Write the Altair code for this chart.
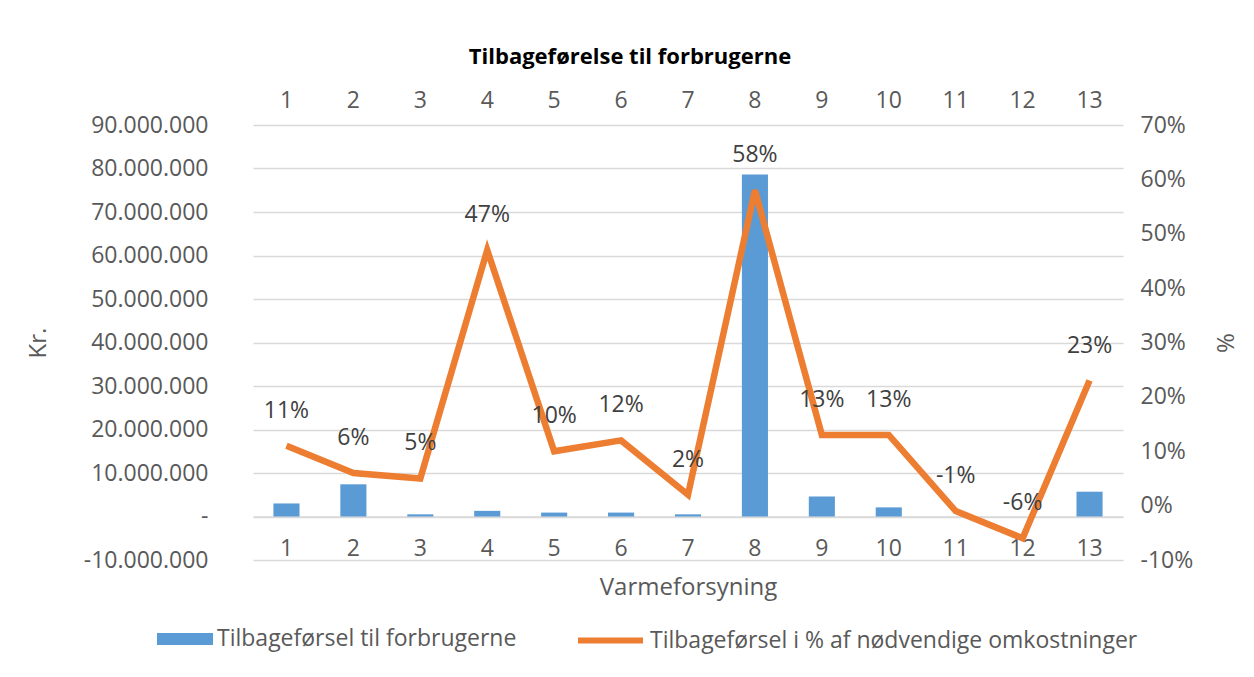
import altair as alt
import pandas as pd

categories = [str(i) for i in range(1, 14)]
amounts = [3.0e6, 7.4e6, 0.5e6, 1.3e6, 0.9e6, 0.9e6, 0.5e6, 78.6e6, 4.6e6, 2.1e6, 0.0, 0.0, 5.7e6]
percents = [11, 6, 5, 47, 10, 12, 2, 58, 13, 13, -1, -6, 23]

bar_name = "Tilbageførsel til forbrugerne"
line_name = "Tilbageførsel i % af nødvendige omkostninger"

df = pd.DataFrame({
    "cat": categories,
    "amount": amounts,
    "pct": percents,
    "bar_series": [bar_name] * 13,
    "line_series": [line_name] * 13,
    "label": [f"{p}%" for p in percents],
})

FONT = "Open Sans"
GRAY = "#595959"
GRID = "#d9d9d9"
BLUE = "#5B9BD5"
ORANGE = "#ED7D31"

x_scale = alt.Scale(domain=categories, paddingInner=0.61, paddingOuter=0.305)
left_scale = alt.Scale(domain=[-10_000_000, 90_000_000], nice=False, zero=False)
right_scale = alt.Scale(domain=[-10, 70], nice=False, zero=False)

left_label = ("datum.value == 0 ? '-' : (datum.value < 0 ? '-' : '') + "
              "replace(replace(format(abs(datum.value), ','), ',', '.'), ',', '.')")

bars = alt.Chart(df).mark_bar(color=BLUE).encode(
    x=alt.X("cat:O", scale=x_scale, sort=categories,
            axis=alt.Axis(orient="bottom", offset=-43.5, title="Varmeforsyning",
                          labelAngle=0, ticks=False, domainColor=GRID, domainWidth=1.5,
                          labelPadding=21, titlePadding=15, labelFont=FONT, labelFontSize=23,
                          labelColor=GRAY, titleFont=FONT, titleFontSize=24, titleColor=GRAY,
                          titleFontWeight="normal")),
    y=alt.Y("amount:Q", scale=left_scale,
            axis=alt.Axis(title="Kr.", values=list(range(-10_000_000, 90_000_001, 10_000_000)),
                          labelExpr=left_label, ticks=False, domain=False, grid=True,
                          gridColor=GRID, gridWidth=1.5, labelPadding=45, titlePadding=33,
                          labelFont=FONT, labelFontSize=23, labelColor=GRAY,
                          titleFont=FONT, titleFontSize=24, titleColor=GRAY,
                          titleFontWeight="normal")),
    fill=alt.Fill("bar_series:N", scale=alt.Scale(domain=[bar_name], range=[BLUE]),
                  legend=alt.Legend(title=None, orient="none", legendX=-96, legendY=486,
                                    symbolType="M-1,-0.21H1V0.21H-1Z", symbolSize=3136,
                                    symbolStrokeWidth=0, labelFont=FONT, labelFontSize=23,
                                    labelColor=GRAY, labelOffset=4, labelLimit=0)),
)

line = alt.Chart(df).mark_line(color=ORANGE, strokeWidth=6.5).encode(
    x=alt.X("cat:O", scale=x_scale, sort=categories,
            axis=alt.Axis(orient="top", title=None, labelAngle=0, ticks=False, domain=False,
                          labelPadding=13, labelFont=FONT, labelFontSize=23, labelColor=GRAY)),
    y=alt.Y("pct:Q", scale=right_scale,
            axis=alt.Axis(orient="right", title="%", values=list(range(-10, 71, 10)),
                          labelExpr="datum.value + '%'", ticks=False, domain=False, grid=False,
                          labelPadding=17, titlePadding=46, titleAngle=270,
                          labelFont=FONT, labelFontSize=23, labelColor=GRAY,
                          titleFont=FONT, titleFontSize=24, titleColor=GRAY,
                          titleFontWeight="normal")),
    stroke=alt.Stroke("line_series:N", scale=alt.Scale(domain=[line_name], range=[ORANGE]),
                      legend=alt.Legend(title=None, orient="none", legendX=322, legendY=480,
                                        symbolType="stroke", symbolSize=4225,
                                        symbolStrokeWidth=6, labelFont=FONT, labelFontSize=23,
                                        labelColor=GRAY, labelOffset=4, labelLimit=0)),
)

labels = alt.Chart(df).mark_text(font=FONT, fontSize=23, color="#404040", dy=-35,
                                 baseline="middle").encode(
    x=alt.X("cat:O", scale=x_scale, sort=categories, axis=None),
    y=alt.Y("pct:Q", scale=right_scale, axis=None),
    text="label:N",
)

chart = alt.layer(bars, line, labels).resolve_scale(
    y="independent"
).resolve_axis(
    x="independent", y="independent"
).resolve_legend(
    fill="independent", stroke="independent"
).properties(
    width=870,
    height=435,
    padding={"left": 245, "top": 117, "right": 123, "bottom": 109},
    autosize=alt.AutoSizeParams(type="none"),
    title=alt.TitleParams("Tilbageførelse til forbrugerne", font=FONT, fontSize=22,
                          fontWeight="bold", color="#000000", anchor="middle",
                          dx=-58, offset=20),
).configure(
    background="white", view=alt.ViewConfig(stroke="transparent")
)

chart.save("out.html", embed_options={"renderer": "svg", "actions": False})
